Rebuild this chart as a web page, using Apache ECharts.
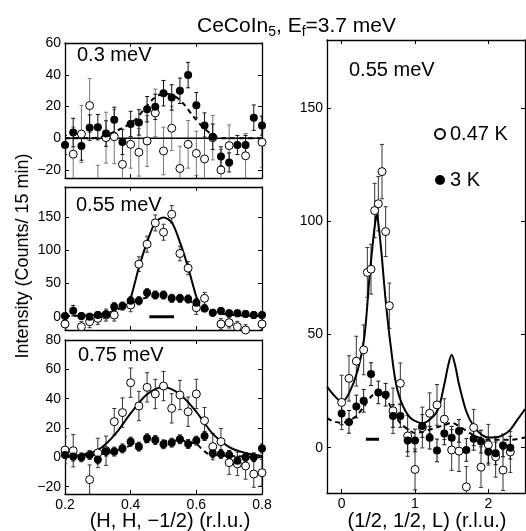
<!DOCTYPE html>
<html>
<head>
<meta charset="UTF-8">
<title>CeCoIn5 scans</title>
<script src="https://cdn.jsdelivr.net/npm/echarts@6/dist/echarts.min.js"></script>
<style>
html, body { margin: 0; padding: 0; background: #fff; }
#main { width: 526px; height: 531px; }
</style>
</head>
<body>
<div id="main"></div>
<script>
// scan positions along (H, H, -1/2), same for the three left panels
var hScan = [0.2, 0.225, 0.25, 0.275, 0.3, 0.325, 0.35, 0.375, 0.4, 0.425, 0.45, 0.475, 0.5,
             0.525, 0.55, 0.575, 0.6, 0.625, 0.65, 0.675, 0.7, 0.725, 0.75, 0.775, 0.8];

// 0.3 meV
var open030 = [null, -10, 2.7, 20.6, -30, 0.4, 1, -16.4, -3.8, -8.8, -1.7, 16, -8, 6.3, -19, -3.8, -9.5, -13, 0.4, -20, -4.6, null, -11, null, -2.5];
var open030Err = [0, 17, 18, 17, 13, 16, 17, 16, 15, 15, 16, 15, 15, 14, 14, 15, 14, 14, 14, 13, 13, 0, 14, 0, 16];
var filled030 = [-4.2, 3.6, -4.8, 6.7, 7, 3, 11.6, -2.3, 9, 10, 18.3, 19.8, 28.4, 25.7, 29.9, 39.8, 20.8, 8, 1, -11.4, -15.2, -4.2, -4.2, 13, 8];
var filled030Err = [6, 9, 9, 8, 8, 8, 8, 8, 8, 8, 8, 8, 8, 8, 8, 8, 8, 8, 8, 6, 6, 6, 6, 8, 6];
var dash030H = [0.2, 0.28, 0.32, 0.37, 0.41, 0.44, 0.47, 0.5, 0.53, 0.56, 0.59, 0.62, 0.65, 0.68, 0.8];
var dash030 = [0, 0, 1.5, 6, 11, 18, 25, 28, 27, 22, 14, 7, 2, 0, 0];
var flat030H = [0.2, 0.8];
var flat030 = [0, 0];

// 0.55 meV, (H, H, -1/2)
var open055 = [-11, null, -15, -7.5, -2.5, 2.5, 2.5, null, 17.5, 79, 109, 141, 127, 154, 95, 73, 13.5, 27.6, null, -11, -9, -15, -20, null, -11];
var open055Err = [8, 0, 8, 9, 9, 9, 9, 0, 10, 11, 12, 12, 12, 13, 11, 10, 10, 9, 0, 8, 8, 8, 8, 0, 8];
var filled055 = [1, 9, 1, 0, 2.5, 3.5, 15, 16, 24, 24, 36, 32.6, 32.6, 27.6, 27.6, 26.6, 21, 12.5, 6, 8.5, 5, 5, 4, 2.5, 2.5];
var filled055Err = [5, 8, 5, 5, 5, 5, 6, 6, 6, 6, 6, 6, 6, 6, 6, 6, 6, 5, 5, 5, 5, 5, 5, 5, 5];
var solid055H = [0.39, 0.4, 0.425, 0.45, 0.475, 0.5, 0.525, 0.55, 0.575, 0.6, 0.61];
var solid055 = [20, 28, 74, 112, 142, 149, 142, 112, 74, 30, 20];
var dash055H = [0.2, 0.3, 0.35, 0.4, 0.45, 0.5, 0.55, 0.6, 0.65, 0.7, 0.8];
var dash055 = [1, 3, 9, 20, 29, 31, 28, 19, 8, 3, 1];
var res055H = [0.457, 0.532];
var res055 = [0, 0];

// 0.75 meV
var open075 = [5, 4.5, null, -15.2, 3, 4.5, 24.3, 30.5, 50.9, 35, 47.7, 43.2, 48.6, 33.4, 42.5, 31.1, 43.2, 25, 7.3, 10.7, -3.6, -4.5, -5.9, -11.4, -10.5];
var open075Err = [9, 11, 0, 10, 10, 10, 9, 10, 10, 10, 10, 10, 10, 10, 10, 10, 10, 9, 9, 9, 8, 8, 9, 9, 9];
var filled075 = [1.6, 0.5, 0, 1.6, -1.4, 3.9, 3.9, 6.1, 10.7, 7.3, 13, 11.8, 8.9, 10, 12.3, 9.1, 11.4, 14.5, 2.7, 2.3, 1.6, -2.3, 0, 0, 6.1];
var filled075Err = [3, 3, 3, 3, 3, 3, 3, 3, 3, 3, 3, 3, 3, 3, 3, 3, 3, 3, 3, 3, 3, 3, 3, 3, 3];
var solid075H = [0.2, 0.25, 0.3, 0.35, 0.4, 0.45, 0.5, 0.55, 0.6, 0.65, 0.7, 0.75, 0.8];
var solid075 = [1, 1.8, 5, 15, 30, 43, 48, 43, 31, 16, 7, 3, 1];
var dash075H = [0.2, 0.3, 0.35, 0.4, 0.45, 0.5, 0.55, 0.6, 0.62, 0.64, 0.7, 0.8];
var dash075 = [0.5, 2, 4, 8, 10.5, 11, 11.5, 9, 5, 2, 1, 0];

// 0.55 meV, (1/2, 1/2, L)
var lOpen = [0, 0.1, 0.2, 0.3, 0.35, 0.4, 0.45, 0.5, 0.55, 0.6, 0.65, 0.7, 0.8, 0.9, 1.0, 1.1, 1.2, 1.3, 1.4, 1.5, 1.6, 1.7, 1.8, 1.9, 2.0, 2.1, 2.2, 2.3];
var openL = [20, 30.6, 38.2, 43.2, 77.4, 78.8, 104.7, 107.7, 121.9, 95.4, 62.7, 16.3, 28.4, 5.2, -9.6, 8.9, 15.2, 18.9, 12.6, -1, -1.5, -17.3, 8.9, -8.6, 1.3, -4, -9.9, -1.9];
var openLErr = [12, 10, 11, 11, 11, 11, 12, 12, 12, 11, 10, 10, 9, 9, 9, 9, 9, 9, 9, 9, 9, 9, 8, 9, 9, 9, 9, 9];
var lFilled = [0, 0.1, 0.2, 0.3, 0.4, 0.5, 0.6, 0.7, 0.8, 0.9, 1.0, 1.1, 1.2, 1.3, 1.4, 1.5, 1.6, 1.7, 1.8, 1.9, 2.0, 2.1, 2.2, 2.3];
var filledL = [15.1, 11.4, 18.2, 20.7, 32.5, 24.4, 23.4, 14, 14, 3.2, 3.2, 9.6, 4.4, -1.2, 6.3, 4.4, 7.4, -1, 3.9, 2.7, -1.8, -2.5, 1, 0];
var filledLErr = [5, 5, 5, 5, 5, 5, 5, 5, 5, 5, 5, 5, 5, 5, 5, 5, 5, 5, 5, 5, 5, 5, 5, 5];
var solidLx = [-0.2, -0.1, 0, 0.1, 0.22, 0.31, 0.38, 0.44, 0.47, 0.48, 0.5, 0.54, 0.6, 0.67, 0.76, 0.92, 1.1, 1.3, 1.4, 1.45, 1.5, 1.55, 1.6, 1.7, 1.8, 1.9, 2.0, 2.1, 2.2, 2.3, 2.4, 2.5];
var solidL = [27, 23, 20.3, 24, 34.3, 49, 75.5, 95, 102, 103, 99, 87, 65, 44.6, 25.5, 13.7, 10.8, 16, 28, 36, 41, 36, 28, 16, 9.5, 6, 4.5, 4.5, 5.5, 8, 12.5, 17];
var dashLx = [-0.2, -0.1, 0, 0.1, 0.2, 0.3, 0.4, 0.5, 0.6, 0.67, 0.8, 0.92, 1.0, 1.1, 1.25, 1.4, 1.5, 1.6, 1.8, 2.0, 2.3, 2.5];
var dashL = [13, 11.5, 11, 12, 14, 18, 22.5, 24.7, 22, 18, 10.8, 7.8, 6.5, 7, 8.5, 10, 11, 9.5, 5.5, 3.5, 3.5, 4.5];
var resLx = [0.33, 0.51];
var resL = [3.7, 3.7];

// axis ranges and tick values per panel
var xTicksH = [0.2, 0.4, 0.6, 0.8];
var xTicksL = [0, 1, 2];
var yTicks = [[-20, 0, 20, 40, 60], [0, 50, 100, 150], [-20, 0, 20, 40, 60, 80], [0, 50, 100, 150]];
var xRange = [[0.2, 0.8], [0.2, 0.8], [0.2, 0.8], [-0.2, 2.5]];
var yRange = [[-25, 60], [-20, 195], [-25, 80], [-20, 180]];

var FONT = '"Liberation Sans", Arial, Helvetica, sans-serif';

var myChart = echarts.init(document.getElementById('main'));

function fmt(v) {
    return v < 0 ? '\u2212' + Math.abs(v) : String(v);
}

function axis(g, range, ticks, pos, showLabel) {
    return {
        type: 'value', gridIndex: g, position: pos,
        min: range[0], max: range[1],
        axisLine: { show: true, onZero: false, lineStyle: { color: '#000', width: 1.3 } },
        axisTick: { show: true, inside: true, length: 4, customValues: ticks, lineStyle: { color: '#000', width: 1 } },
        axisLabel: { show: showLabel, customValues: ticks, formatter: fmt, color: '#000', fontSize: 14, fontFamily: FONT, margin: 4 },
        splitLine: { show: false }
    };
}

function pts(xs, ys) {
    var d = [];
    for (var i = 0; i < xs.length; i++) {
        if (ys[i] !== null) d.push([xs[i], ys[i]]);
    }
    return d;
}

function errBars(g, xs, ys, errs, color) {
    var d = [];
    for (var i = 0; i < xs.length; i++) {
        if (ys[i] !== null) d.push([xs[i], ys[i] - errs[i], ys[i] + errs[i]]);
    }
    return {
        type: 'custom', xAxisIndex: 2 * g, yAxisIndex: 2 * g, clip: true, z: 2, silent: true,
        encode: { x: 0, y: [1, 2] },
        renderItem: function (params, api) {
            var lo = api.coord([api.value(0), api.value(1)]);
            var hi = api.coord([api.value(0), api.value(2)]);
            var w = 2;
            var st = { stroke: color, lineWidth: 1 };
            return {
                type: 'group',
                children: [
                    { type: 'line', shape: { x1: lo[0], y1: lo[1], x2: hi[0], y2: hi[1] }, style: st },
                    { type: 'line', shape: { x1: lo[0] - w, y1: lo[1], x2: lo[0] + w, y2: lo[1] }, style: st },
                    { type: 'line', shape: { x1: hi[0] - w, y1: hi[1], x2: hi[0] + w, y2: hi[1] }, style: st }
                ]
            };
        },
        data: d
    };
}

function openPts(g, xs, ys) {
    return {
        type: 'scatter', name: '0.47 K', xAxisIndex: 2 * g, yAxisIndex: 2 * g,
        symbol: 'circle', symbolSize: 8, z: 4,
        itemStyle: { color: '#fff', borderColor: '#000', borderWidth: 1, opacity: 1 },
        data: pts(xs, ys)
    };
}

function filledPts(g, xs, ys) {
    return {
        type: 'scatter', name: '3 K', xAxisIndex: 2 * g, yAxisIndex: 2 * g,
        symbol: 'circle', symbolSize: 8, z: 5,
        itemStyle: { color: '#000', opacity: 1 },
        data: pts(xs, ys)
    };
}

function curve(g, xs, ys, dash, width) {
    return {
        type: 'line', xAxisIndex: 2 * g, yAxisIndex: 2 * g,
        smooth: 0.3, symbol: 'none', silent: true, z: 3,
        lineStyle: { color: '#000', width: width || 2, type: dash ? [5, 4] : 'solid' },
        data: pts(xs, ys)
    };
}

var grids = [
    { left: 65, top: 43, width: 197, height: 135 },
    { left: 65, top: 187, width: 197, height: 143 },
    { left: 65, top: 340, width: 197, height: 154 },
    { left: 327, top: 40, width: 198, height: 453 }
];

var xAxes = [], yAxes = [];
for (var g = 0; g < 4; g++) {
    var xt = g === 3 ? xTicksL : xTicksH;
    var showX = g >= 2;
    xAxes.push(axis(g, xRange[g], xt, 'bottom', showX));
    xAxes.push(axis(g, xRange[g], xt, 'top', false));
    yAxes.push(axis(g, yRange[g], yTicks[g], 'left', true));
    yAxes.push(axis(g, yRange[g], yTicks[g], 'right', false));
}

var series = [
    // 0.3 meV
    errBars(0, hScan, open030, open030Err, '#777'),
    errBars(0, hScan, filled030, filled030Err, '#111'),
    curve(0, flat030H, flat030, false, 1.6),
    curve(0, dash030H, dash030, true),
    openPts(0, hScan, open030),
    filledPts(0, hScan, filled030),
    // 0.55 meV
    errBars(1, hScan, open055, open055Err, '#333'),
    errBars(1, hScan, filled055, filled055Err, '#111'),
    curve(1, solid055H, solid055, false),
    curve(1, dash055H, dash055, true),
    curve(1, res055H, res055, false, 3),
    openPts(1, hScan, open055),
    filledPts(1, hScan, filled055),
    // 0.75 meV
    errBars(2, hScan, open075, open075Err, '#333'),
    errBars(2, hScan, filled075, filled075Err, '#111'),
    curve(2, solid075H, solid075, false),
    curve(2, dash075H, dash075, true),
    openPts(2, hScan, open075),
    filledPts(2, hScan, filled075),
    // L scan
    errBars(3, lOpen, openL, openLErr, '#333'),
    errBars(3, lFilled, filledL, filledLErr, '#111'),
    curve(3, solidLx, solidL, false),
    curve(3, dashLx, dashL, true),
    curve(3, resLx, resL, false, 3),
    openPts(3, lOpen, openL),
    filledPts(3, lFilled, filledL)
];

var labelFont = '20px ' + FONT;

myChart.setOption({
    animation: false,
    backgroundColor: '#fff',
    title: {
        text: 'CeCoIn{s|5}, E{s|f}=3.7 meV',
        left: 192, top: 8,
        textStyle: {
            fontSize: 21, fontWeight: 'normal', fontFamily: FONT, color: '#000',
            rich: { s: { fontSize: 14, fontFamily: FONT, color: '#000', padding: [12, 0, 0, 0] } }
        }
    },
    legend: {
        data: ['0.47 K', '3 K'],
        orient: 'vertical', left: 429, top: 119,
        itemWidth: 10, itemHeight: 10, itemGap: 26,
        selectedMode: false,
        textStyle: { fontSize: 20, fontFamily: FONT, color: '#000' }
    },
    grid: grids,
    xAxis: xAxes,
    yAxis: yAxes,
    series: series,
    graphic: [
        { type: 'text', left: 77, top: 45, style: { text: '0.3 meV', font: labelFont, fill: '#000' } },
        { type: 'text', left: 76, top: 195, style: { text: '0.55 meV', font: labelFont, fill: '#000' } },
        { type: 'text', left: 78, top: 345, style: { text: '0.75 meV', font: labelFont, fill: '#000' } },
        { type: 'text', left: 349, top: 60, style: { text: '0.55 meV', font: labelFont, fill: '#000' } },
        { type: 'text', x: 170, y: 521, style: { text: '(H, H, \u22121/2) (r.l.u.)', font: labelFont, fill: '#000', textAlign: 'center', textVerticalAlign: 'middle' } },
        { type: 'text', x: 427, y: 521, style: { text: '(1/2, 1/2, L) (r.l.u.)', font: labelFont, fill: '#000', textAlign: 'center', textVerticalAlign: 'middle' } },
        { type: 'text', x: 23, y: 256, rotation: Math.PI / 2, style: { text: 'Intensity (Counts/ 15 min)', font: '18px ' + FONT, fill: '#000', textAlign: 'center', textVerticalAlign: 'middle' } }
    ]
});
</script>
</body>
</html>
